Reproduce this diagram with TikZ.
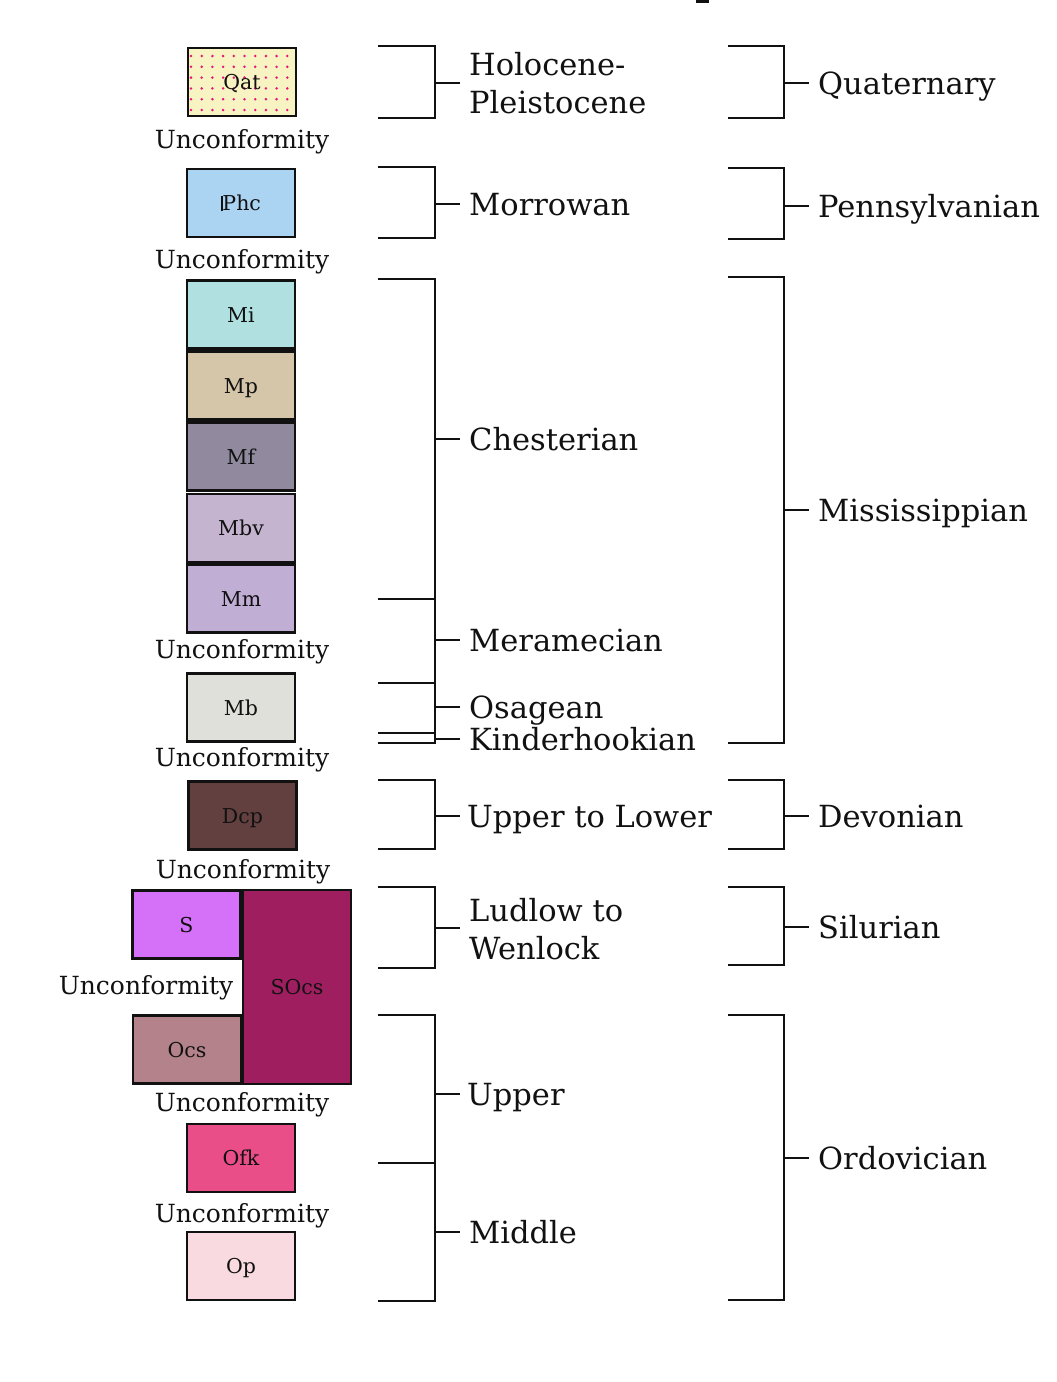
\documentclass[tikz,border=0pt]{standalone}
\usepackage{fontspec}
\setmainfont{DejaVu Serif}
\definecolor{cQat}{HTML}{F7F3C2}
\definecolor{cDot}{HTML}{E8157A}
\definecolor{cPhc}{HTML}{ABD3F2}
\definecolor{cMi}{HTML}{B1E0E0}
\definecolor{cMp}{HTML}{D5C6AA}
\definecolor{cMf}{HTML}{918A9F}
\definecolor{cMbv}{HTML}{C4B4CF}
\definecolor{cMm}{HTML}{C1AED5}
\definecolor{cMb}{HTML}{E0E0DA}
\definecolor{cDcp}{HTML}{62403F}
\definecolor{cS}{HTML}{D570F9}
\definecolor{cSOcs}{HTML}{9E1E60}
\definecolor{cOcs}{HTML}{B4828A}
\definecolor{cOfk}{HTML}{EA4E88}
\definecolor{cOp}{HTML}{F9DAE1}
\definecolor{ink}{HTML}{111111}
\newcommand\Pbb{{\rlap{\kern0.0em\rule{0.11em}{0.73em}}\kern0.07em P}}
\begin{document}
\begin{tikzpicture}[x=1pt,y=-1pt,
  unit/.style={draw=ink,line width=2.8pt,minimum width=108pt,minimum height=68pt,
    inner sep=0pt,font=\fontsize{20.5}{24}\selectfont,text=ink,
    text height=15pt,text depth=0pt},
  unc/.style={font=\fontsize{25}{30}\selectfont,text=ink,inner sep=0pt,
    text height=18.3pt,text depth=0pt},
  lbl/.style={anchor=west,font=\fontsize{30.5}{38}\selectfont,text=ink,
    inner xsep=0pt,inner ysep=0pt,text height=22.3pt,text depth=0pt},
  brk/.style={draw=ink,line width=2pt},
]
\useasboundingbox (0,0) rectangle (1057,1382);
\draw[ink,line width=3pt] (696,1) -- (709,1);

% ---- column of units ----
\node[unit,fill=cQat] (qat) at (242,82) {};
\foreach \i in {0,...,9}{\foreach \j in {0,...,5}{
  \fill[cDot] (191+\i*10.7,56+\j*10.8) circle (1.4pt);}}
\node[unit,draw=none,fill=none] (qatl) at (242,82) {Qat};
\node[unc] (u1) at (242,139) {Unconformity};
\node[unit,fill=cPhc] (phc) at (241,203) {\Pbb hc};
\node[unc] (u2) at (242,259) {Unconformity};
\node[unit,fill=cMi] (mi) at (241,314.5) {Mi};
\node[unit,fill=cMp] (mp) at (241,385.5) {Mp};
\node[unit,fill=cMf] (mf) at (241,456.5) {Mf};
\node[unit,fill=cMbv] (mbv) at (241,528) {Mbv};
\node[unit,fill=cMm] (mm) at (241,598.5) {Mm};
\node[unc] (u3) at (242,649) {Unconformity};
\node[unit,fill=cMb] (mb) at (241,707.5) {Mb};
\node[unc] (u4) at (242,757) {Unconformity};
\node[unit,fill=cDcp] (dcp) at (242.5,815.5) {Dcp};
\node[unc] (u5) at (243,869) {Unconformity};
\node[unit,fill=cSOcs,minimum height=194pt] (socs) at (297,987) {SOcs};
\node[unit,fill=cS] (s) at (186.5,924.5) {S};
\node[unc] (u6) at (146,985) {Unconformity};
\node[unit,fill=cOcs] (ocs) at (187,1049.5) {Ocs};
\node[unc] (u7) at (242,1102) {Unconformity};
\node[unit,fill=cOfk] (ofk) at (241,1158) {Ofk};
\node[unc] (u8) at (242,1213) {Unconformity};
\node[unit,fill=cOp] (op) at (241,1266) {Op};

% ---- series brackets (left) ----
\coordinate (holo) at (460,83);
\node[lbl] (holo1) at (469,64) {Holocene-};
\node[lbl] (holo2) at (469,102) {Pleistocene};
\draw[brk] (378,46) -- (435,46) -- (435,118) -- (378,118);
\draw[brk] (435,83) -- (holo);

\node[lbl] (morr) at (469,204) {Morrowan};
\draw[brk] (378,167) -- (435,167) -- (435,238) -- (378,238);
\draw[brk] (435,204) -- ([xshift=-9pt]morr.west);

\node[lbl] (ches) at (469,439) {Chesterian};
\draw[brk] (378,279) -- (435,279) -- (435,743) -- (378,743);
\draw[brk] (378,599) -- (435,599);
\draw[brk] (378,683) -- (435,683);
\draw[brk] (378,733) -- (435,733);
\draw[brk] (435,439) -- ([xshift=-9pt]ches.west);

\node[lbl] (mera) at (469,640) {Meramecian};
\draw[brk] (435,640) -- ([xshift=-9pt]mera.west);
\node[lbl] (osag) at (469,707) {Osagean};
\draw[brk] (435,707) -- ([xshift=-9pt]osag.west);
\node[lbl] (kind) at (469,739) {Kinderhookian};
\draw[brk] (435,739) -- ([xshift=-9pt]kind.west);

\node[lbl] (utl) at (467,816) {Upper to Lower};
\draw[brk] (435,816) -- ([xshift=-7pt]utl.west);
\draw[brk] (378,780) -- (435,780) -- (435,849) -- (378,849);

\coordinate (ludl) at (460,928);
\node[lbl] (ludl1) at (469,910) {Ludlow to};
\node[lbl] (ludl2) at (469,948) {Wenlock};
\draw[brk] (378,887) -- (435,887) -- (435,968) -- (378,968);
\draw[brk] (435,928) -- (ludl);

\node[lbl] (upper) at (467,1094) {Upper};
\draw[brk] (378,1015) -- (435,1015) -- (435,1301) -- (378,1301);
\draw[brk] (378,1163) -- (435,1163);
\draw[brk] (435,1094) -- ([xshift=-7pt]upper.west);
\node[lbl] (midd) at (469,1232) {Middle};
\draw[brk] (435,1232) -- ([xshift=-9pt]midd.west);

% ---- system brackets (right) ----
\node[lbl] (quat) at (818,83) {Quaternary};
\draw[brk] (728,46) -- (784,46) -- (784,118) -- (728,118);
\draw[brk] (784,83) -- ([xshift=-9pt]quat.west);

\node[lbl] (penn) at (818,206) {Pennsylvanian};
\draw[brk] (728,168) -- (784,168) -- (784,239) -- (728,239);
\draw[brk] (784,206) -- ([xshift=-9pt]penn.west);

\node[lbl] (miss) at (818,510) {Mississippian};
\draw[brk] (728,277) -- (784,277) -- (784,743) -- (728,743);
\draw[brk] (784,510) -- ([xshift=-9pt]miss.west);

\node[lbl] (devo) at (818,816) {Devonian};
\draw[brk] (728,780) -- (784,780) -- (784,849) -- (728,849);
\draw[brk] (784,816) -- ([xshift=-9pt]devo.west);

\node[lbl] (silu) at (818,927) {Silurian};
\draw[brk] (728,887) -- (784,887) -- (784,965) -- (728,965);
\draw[brk] (784,927) -- ([xshift=-9pt]silu.west);

\node[lbl] (ordo) at (818,1158) {Ordovician};
\draw[brk] (728,1015) -- (784,1015) -- (784,1300) -- (728,1300);
\draw[brk] (784,1158) -- ([xshift=-9pt]ordo.west);
\end{tikzpicture}
\end{document}
